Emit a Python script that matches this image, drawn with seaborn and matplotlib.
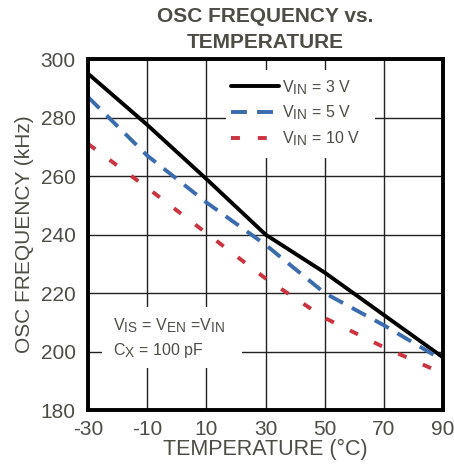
import matplotlib
matplotlib.use("Agg")
import matplotlib.pyplot as plt
import matplotlib._mathtext as _mt
from matplotlib.patches import Rectangle
import numpy as np
import pandas as pd
import seaborn as sns

# larger subscripts, as in the reference
_mt.SHRINK_FACTOR = 0.85

# ---- data ----
temperature = [-30, -10, 10, 30, 50, 70, 90]
freq_vin3 = [295.0, 277.5, 259.0, 240.0, 227.0, 212.5, 198.0]
freq_vin5 = [287.0, 267.0, 251.0, 236.5, 220.0, 209.0, 197.0]
freq_vin10 = [271.0, 256.0, 240.5, 225.0, 211.5, 201.5, 192.5]
series_labels = [r"$\mathrm{V_{IN}}$ = 3 V", r"$\mathrm{V_{IN}}$ = 5 V", r"$\mathrm{V_{IN}}$ = 10 V"]
x_ticks = [-30, -10, 10, 30, 50, 70, 90]
y_ticks = [180, 200, 220, 240, 260, 280, 300]

df = pd.DataFrame({
    "temp": temperature * 3,
    "freq": freq_vin3 + freq_vin5 + freq_vin10,
    "series": [series_labels[0]] * 7 + [series_labels[1]] * 7 + [series_labels[2]] * 7,
})

sns.set_style("white")
plt.rcParams["font.family"] = ["Liberation Sans", "DejaVu Sans"]
plt.rcParams["mathtext.fontset"] = "custom"
plt.rcParams["mathtext.rm"] = "Liberation Sans"
plt.rcParams["mathtext.it"] = "Liberation Sans:italic"
plt.rcParams["mathtext.bf"] = "Liberation Sans:bold"

TXT = "#4d4d45"
colors = {series_labels[0]: "#000000", series_labels[1]: "#3a6cae", series_labels[2]: "#cc3340"}
dashes = {series_labels[0]: "", series_labels[1]: (4.1, 2.6), series_labels[2]: (2.3, 4.6)}

fig = plt.figure(figsize=(4.54, 4.65), dpi=100)
ax = fig.add_axes([0.194, 0.118, 0.782, 0.755])

sns.lineplot(data=df, x="temp", y="freq", hue="series", style="series",
             palette=colors, dashes=dashes, linewidth=2.8, legend=False, ax=ax,
             zorder=3)

ax.set_xlim(-30, 90)
ax.set_ylim(180, 300)
ax.set_xticks(x_ticks)
ax.set_yticks(y_ticks)
ax.set_xticklabels([str(t) for t in x_ticks])
ax.set_yticklabels([str(t) for t in y_ticks])
ax.tick_params(axis="both", length=0, labelsize=15, labelcolor=TXT)
ax.tick_params(axis="y", pad=9)
ax.tick_params(axis="x", pad=7)
ax.set_axisbelow(True)
ax.grid(True, color="#222222", linewidth=1.0)

for s in ax.spines.values():
    s.set_visible(True)
    s.set_color("black")
    s.set_linewidth(2.8)
    s.set_zorder(6)

ax.set_xlabel("TEMPERATURE (°C)", fontsize=15.5, color=TXT, labelpad=0)
ax.set_ylabel("OSC FREQUENCY (kHz)", fontsize=15, color=TXT, labelpad=5)
ax.set_title("OSC FREQUENCY vs.\nTEMPERATURE", fontsize=15, fontweight="bold",
             color=TXT, pad=8, linespacing=1.45)

# white boxes behind legend and annotation
ax.add_patch(Rectangle((0.389, 0.718), 0.419, 0.251, transform=ax.transAxes,
                       facecolor="white", edgecolor="none", zorder=1))
ax.add_patch(Rectangle((0.039, 0.120), 0.395, 0.173, transform=ax.transAxes,
                       facecolor="white", edgecolor="none", zorder=1))

handles = ax.get_lines()[:3]
leg = ax.legend(handles, series_labels, loc="upper left", bbox_to_anchor=(0.39, 0.96),
                frameon=False, fontsize=11.5, handlelength=3.0, handletextpad=0.15,
                labelspacing=0.45, borderpad=0.3, borderaxespad=0)
for t in leg.get_texts():
    t.set_color(TXT)
leg.set_zorder(7)

ax.text(0.07, 0.242, r"$\mathrm{V_{IS}}$ = $\mathrm{V_{EN}}$ =$\mathrm{V_{IN}}$", transform=ax.transAxes,
        fontsize=11.5, color=TXT, va="center", ha="left", zorder=7)
ax.text(0.07, 0.170, r"$\mathrm{C_{X}}$ = 100 pF", transform=ax.transAxes,
        fontsize=11.5, color=TXT, va="center", ha="left", zorder=7)

fig.savefig("out.png", dpi=100)
